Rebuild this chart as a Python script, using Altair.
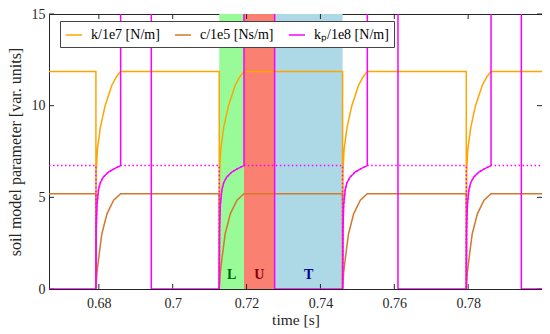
import altair as alt
import pandas as pd

FONT = "Liberation Serif"
AX_COL = "#262626"

# ---- data ----
X_MIN, X_MAX = 0.6665, 0.8
Y_MIN, Y_MAX = 0, 15
x_ticks = [0.68, 0.70, 0.72, 0.74, 0.76, 0.78]
y_ticks = [0, 5, 10, 15]

events = [0.6792, 0.7126, 0.7460, 0.7795]        # loading starts
unload_end = [0.6942, 0.7276, 0.7610, 0.7944]    # kp drops back to 0

k_level = 11.87
c_level = 5.2
kp_level = 6.73
kp_high = 20.0   # off the top of the plot (clipped)

k_rise_dt = [0, 0.0001, 0.0004, 0.0012, 0.0025, 0.0043, 0.0055, 0.0067]
k_rise_val = [0, 6.4, 7.6, 8.8, 10.0, 11.1, 11.55, 11.87]
c_rise_dt = [0, 0.0003, 0.0007, 0.0016, 0.0030, 0.0048, 0.0067]
c_rise_val = [0, 0.9, 1.6, 3.0, 4.1, 4.85, 5.2]
kp_rise_dt = [0, 0.0001, 0.0003, 0.0007, 0.0012, 0.0020, 0.0034, 0.0050, 0.0067]
kp_rise_val = [0, 3.3, 4.6, 5.4, 5.8, 6.1, 6.38, 6.57, 6.73]

series_names = ["k/1e7 [N/m]", "c/1e5 [Ns/m]", "kₚ/1e8 [N/m]"]
series_colors = ["#FFA500", "#D4782C", "#FF00FF"]

phase_names = ["L", "U", "T"]
phase_start = [0.7126, 0.7193, 0.7276]
phase_end = [0.7193, 0.7276, 0.7460]
phase_fill = ["#98FB98", "#FA8072", "#ADD8E6"]
phase_text = ["#006400", "#8B0000", "#00008B"]
phase_label_y = 0.75

# ---- build tables ----
rows = []


def add(series, pts):
    for i, (t, v) in enumerate(pts):
        rows.append({"series": series, "t": t, "v": v, "idx": i})


def level_series(level, dts, vals):
    pts = [(X_MIN, level)]
    for e in events:
        pts.append((e, level))
        pts += [(e + d, v) for d, v in zip(dts, vals)]
    pts.append((X_MAX, level))
    return pts


add(series_names[0], level_series(k_level, k_rise_dt, k_rise_val))
add(series_names[1], level_series(c_level, c_rise_dt, c_rise_val))

kp_pts = [(X_MIN, 0)]
for e, u in zip(events, unload_end):
    kp_pts.append((e, 0))
    kp_pts += [(e + d, v) for d, v in zip(kp_rise_dt, kp_rise_val)]
    kp_pts.append((e + kp_rise_dt[-1], kp_high))
    kp_pts.append((u, kp_high))
    kp_pts.append((u, 0))
kp_pts.append((X_MAX, 0))
add(series_names[2], kp_pts)

lines_df = pd.DataFrame(rows)

dot_pts = [(X_MIN, kp_level)]
for e in events:
    dot_pts.append((e, kp_level))
    dot_pts += [(e + d, v) for d, v in zip(kp_rise_dt, kp_rise_val)]
dot_pts.append((X_MAX, kp_level))
dot_df = pd.DataFrame({"t": [p[0] for p in dot_pts], "v": [p[1] for p in dot_pts],
                       "idx": list(range(len(dot_pts)))})

phase_df = pd.DataFrame({
    "name": phase_names, "x0": phase_start, "x1": phase_end,
    "mid": [(a + b) / 2 for a, b in zip(phase_start, phase_end)],
    "y0": [Y_MIN] * 3, "y1": [Y_MAX] * 3, "ly": [phase_label_y] * 3,
})

W, H = 493, 275
xs = alt.Scale(domain=[X_MIN, X_MAX], nice=False, zero=False)
ys = alt.Scale(domain=[Y_MIN, Y_MAX], nice=False, zero=False)
xaxis = alt.Axis(values=x_ticks, format=".2~f", ticks=False, domain=False, grid=False,
                 labelFont=FONT, titleFont=FONT, labelFontSize=14, titleFontSize=15.5,
                 labelPadding=7, title="time [s]", titlePadding=2)
yaxis = alt.Axis(values=y_ticks, ticks=False, domain=False, grid=False,
                 labelFont=FONT, titleFont=FONT, labelFontSize=14, titleFontSize=16,
                 labelPadding=4, title="soil model parameter [var. units]", titlePadding=8)


def X(f):
    return alt.X(f, type="quantitative", scale=xs, axis=xaxis)


def Y(f):
    return alt.Y(f, type="quantitative", scale=ys, axis=yaxis)


rects = alt.Chart(phase_df).mark_rect().encode(
    x=X("x0"), x2="x1", y=Y("y0"), y2="y1",
    color=alt.Color("name:N", scale=alt.Scale(domain=phase_names, range=phase_fill), legend=None),
)

xt_df = pd.DataFrame({"t": x_ticks})
yt_df = pd.DataFrame({"v": y_ticks})
tick_style = dict(color=AX_COL, strokeWidth=1)
xt_bot = alt.Chart(xt_df).mark_rule(**tick_style).encode(x=X("t"), y=alt.value(H), y2=alt.value(H - 5))
xt_top = alt.Chart(xt_df).mark_rule(**tick_style).encode(x=X("t"), y=alt.value(0), y2=alt.value(5))
yt_left = alt.Chart(yt_df).mark_rule(**tick_style).encode(y=Y("v"), x=alt.value(0), x2=alt.value(5))
yt_right = alt.Chart(yt_df).mark_rule(**tick_style).encode(y=Y("v"), x=alt.value(W), x2=alt.value(W - 5))

lines = alt.Chart(lines_df).mark_line(strokeWidth=1.5, clip=True).encode(
    x=X("t"), y=Y("v"),
    color=alt.Color("series:N", scale=alt.Scale(domain=series_names, range=series_colors),
                    legend=alt.Legend(title=None, labelFont=FONT, labelFontSize=14)),
    order="idx:Q",
)

dotted = alt.Chart(dot_df).mark_line(strokeWidth=1.5, strokeDash=[1.5, 2.5], color="#FF00FF", clip=True).encode(
    x=X("t"), y=Y("v"), order="idx:Q",
)

labels = alt.Chart(phase_df).mark_text(font=FONT, fontSize=14, fontWeight="bold", baseline="middle").encode(
    x=X("mid"), y=Y("ly"), text="name:N",
    color=alt.Color("name:N", scale=alt.Scale(domain=phase_names, range=phase_text), legend=None),
)

chart = alt.layer(rects, xt_bot, xt_top, yt_left, yt_right, lines, dotted, labels).resolve_scale(
    color="independent"
).properties(
    width=W, height=H, autosize="none",
    padding={"left": 41, "top": 6, "right": 0, "bottom": 40},
).configure(
    font=FONT,
).configure_view(
    stroke=AX_COL, strokeWidth=1,
).configure_axis(
    labelFont=FONT, labelFontSize=14, labelColor=AX_COL,
    titleColor=AX_COL, titleFontWeight="normal",
).configure_legend(
    orient="none", legendX=11, legendY=7, direction="horizontal",
    symbolType="stroke", symbolSize=256, symbolStrokeWidth=1.5,
    labelFont=FONT, labelFontSize=14, labelColor="#000",
    fillColor="white", strokeColor="#444", padding=5, columnPadding=12, labelOffset=8,
)

chart.save("out.html", embed_options={"renderer": "svg", "actions": False})
